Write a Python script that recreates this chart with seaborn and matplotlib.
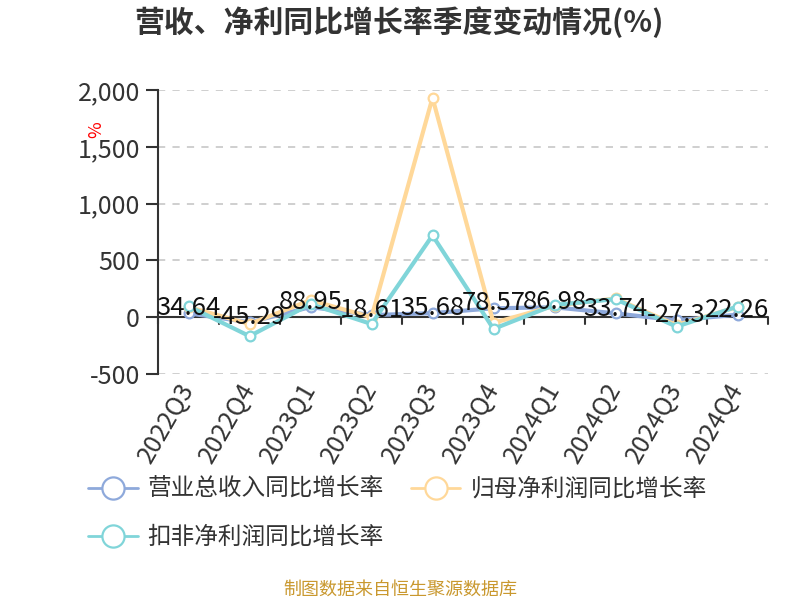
import matplotlib
matplotlib.use("Agg")
import matplotlib.pyplot as plt
import seaborn as sns
import pandas as pd
import numpy as np
from matplotlib.lines import Line2D

quarters = ["2022Q3", "2022Q4", "2023Q1", "2023Q2", "2023Q3",
            "2023Q4", "2024Q1", "2024Q2", "2024Q3", "2024Q4"]
revenue = [34.64, -45.29, 88.95, 18.61, 35.68, 78.57, 86.98, 33.74, -27.3, 22.26]
net_profit = [90, -60, 150, 0, 1931, -50, 100, 165, -70, 90]
deducted_profit = [97, -167, 115, -60, 720, -103, 108, 159, -83, 94]

series_names = ["营业总收入同比增长率", "归母净利润同比增长率", "扣非净利润同比增长率"]
colors = ["#8EA9DB", "#FFD899", "#80D5D9"]

sns.set_theme(style="white")
plt.rcParams['font.family'] = ['Noto Sans CJK SC', 'DejaVu Sans']
plt.rcParams['axes.unicode_minus'] = False

rows = []
for name, vals in zip(series_names, [revenue, net_profit, deducted_profit]):
    for i, (q, v) in enumerate(zip(quarters, vals)):
        rows.append({"pos": i, "quarter": q, "value": v, "series": name})
df = pd.DataFrame(rows)

fig = plt.figure(figsize=(8, 6), dpi=100)
ax = fig.add_axes([158 / 800, 1 - 374 / 600, 610 / 800, 284 / 600])

sns.lineplot(data=df, x="pos", y="value", hue="series", hue_order=series_names,
             palette=colors, linewidth=3, marker="o", markersize=7,
             markerfacecolor="white", markeredgewidth=1.6, ax=ax, legend=False,
             sort=False)
for line, c in zip(ax.get_lines(), colors):
    line.set_markeredgecolor(c)

ax.set_xlim(-0.5, len(quarters) - 0.5)
ax.set_ylim(-500, 2000)
yticks = [-500, 0, 500, 1000, 1500, 2000]
ax.set_yticks(yticks)
ax.set_yticklabels([f"{v:,}" for v in yticks])
for yv in [500, 1000, 1500, 2000, -500]:
    ax.axhline(yv, color="#CCCCCC", linestyle=(0, (4, 4)), linewidth=1.3, zorder=0)
ax.axhline(0, color="#333333", linewidth=1.5, zorder=1)

for s in ["top", "right", "bottom"]:
    ax.spines[s].set_visible(False)
ax.spines["left"].set_color("#333333")
ax.spines["left"].set_linewidth(1.5)

ax.set_xticks(np.arange(len(quarters)))
ax.set_xticklabels(quarters, rotation=60, ha="right", va="center",
                   rotation_mode="anchor", fontsize=18, color="#333333")
ax.tick_params(axis="x", length=0, pad=8)
ax.tick_params(axis="y", left=True, length=9, width=1.5, color="#333333",
               labelsize=18, labelcolor="#333333", pad=4)
for b in np.arange(-0.5, len(quarters), 1.0):
    ax.plot([b, b], [0, -60], color="#333333", linewidth=1.5, clip_on=False, zorder=1)

ax.set_xlabel("")
ax.set_ylabel("")

for i, v in enumerate(revenue):
    ax.annotate(f"{v:g}", (i, v), xytext=(0, 3.5), textcoords="offset points",
                ha="center", va="center", fontsize=18.5, color="#111111", zorder=5)

fig.text(96 / 800, 1 - 130 / 600, "%", color="red", fontsize=13, rotation=90,
         ha="center", va="center")

fig.text(399 / 800, 1 - 22 / 600, "营收、净利同比增长率季度变动情况(%)",
         fontsize=21.5, fontweight="bold", color="#333333", ha="center", va="center")

handles = [Line2D([0], [0], color=c, linewidth=2, marker="o", markersize=16,
                  markerfacecolor="white", markeredgecolor=c, markeredgewidth=1.6)
           for c in colors]
order = [0, 2, 1]
fig.legend([handles[k] for k in order], [series_names[k] for k in order],
           loc="upper left", bbox_to_anchor=(88 / 800, 1 - 478 / 600),
           ncol=2, frameon=False, fontsize=17, handlelength=2.1, handletextpad=0.42,
           columnspacing=1.15, labelspacing=1.05, labelcolor="#333333", borderaxespad=0,
           borderpad=0)

fig.text(400 / 800, 1 - 590 / 600, "制图数据来自恒生聚源数据库", fontsize=13,
         color="#C9982E", ha="center", va="center")

fig.savefig("out.png", dpi=100)
